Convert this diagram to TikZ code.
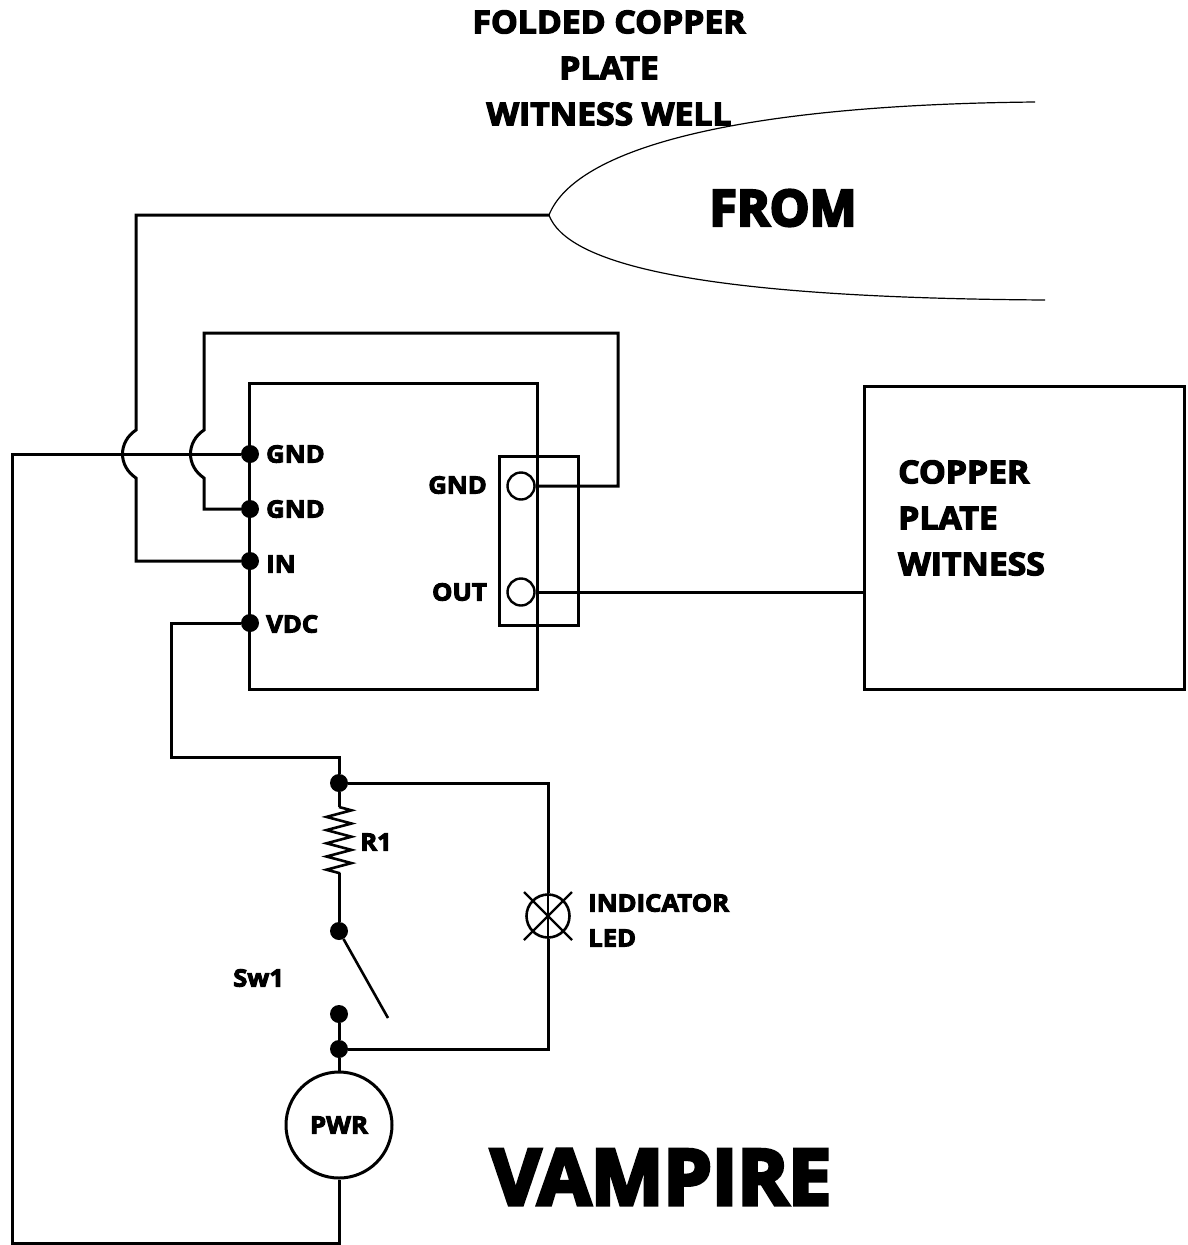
\documentclass[tikz,border=0pt]{standalone}
\usepackage{fontspec}
\setmainfont{Open Sans}
\newfontfamily\heavy[FakeBold=4,FakeStretch=1.07]{Open Sans Bold}
\newfontfamily\bigheavy[FakeBold=5]{Open Sans Bold}
\usetikzlibrary{decorations.pathmorphing}

\tikzstyle{block} = [rectangle, draw, line width=3pt, inner sep=0pt]
\tikzstyle{line} = [draw, line width=3pt, line join=miter]
\tikzstyle{thin line} = [draw, line width=1.2pt]
\tikzstyle{dot} = [circle, fill=black, inner sep=0pt, minimum size=18pt]
\tikzstyle{port} = [circle, draw, line width=2.4pt, inner sep=0pt, minimum size=27pt]
\tikzstyle{lab} = [font=\heavy\fontsize{24}{26}\selectfont, inner sep=0pt]
\tikzstyle{title} = [font=\heavy\fontsize{31.5}{34}\selectfont, inner sep=0pt]

\begin{document}
\begin{tikzpicture}[x=1pt, y=-1pt]
		\useasboundingbox (0,0) rectangle (1188,1245);
		%Title
		\node [title] (title1) at (609,22) {FOLDED COPPER};
		\node [title] (title2) at (609,68) {PLATE};
		\node [title] (title3) at (609,114) {WITNESS WELL};
		\node [font=\bigheavy\fontsize{50}{54}\selectfont, inner sep=0pt] (from) at (783,208) {FROM};
		\node [font=\bigheavy\fontsize{77}{80}\selectfont, inner sep=0pt] (vampire) at (661,1177) {VAMPIRE};
		
		%Main board
		\node [block, minimum width=288pt, minimum height=306pt] (board) at (393,536) {};
		\node [block, minimum width=79pt, minimum height=169pt] (header) at (538.5,540.5) {};
		\node [port] (port_gnd) at (521,486) {};
		\node [port] (port_out) at (521,592) {};
		\node [lab, anchor=east] (lab_pgnd) at (487,485) {GND};
		\node [lab, anchor=east] (lab_pout) at (487,592) {OUT};
		
		\node [dot] (dot_gnd1) at (250,454) {};
		\node [dot] (dot_gnd2) at (250,509) {};
		\node [dot] (dot_in) at (250,561) {};
		\node [dot] (dot_vdc) at (250,623) {};
		\node [lab, anchor=west] (lab_gnd1) at (266,454) {GND};
		\node [lab, anchor=west] (lab_gnd2) at (266,509) {GND};
		\node [lab, anchor=west] (lab_in) at (266,564) {IN};
		\node [lab, anchor=west] (lab_vdc) at (266,624) {VDC};
		
		%Witness
		\node [block, minimum width=320pt, minimum height=303pt] (witness) at (1024,537.5) {};
		\node [title, anchor=west] (wit1) at (898,472) {COPPER};
		\node [title, anchor=west] (wit2) at (898,518) {PLATE};
		\node [title, anchor=west] (wit3) at (898,564) {WITNESS};
		
		%Well
		\coordinate (well) at (549,215);
		\draw [thin line] (well) .. controls (575,150) and (730,105) .. (1035,102);
		\draw [thin line] (well) .. controls (570,272) and (740,298) .. (1045,300);
		
		%Lower circuit
		\node [dot] (dot_top) at (339,783) {};
		\node [dot] (dot_sw1) at (339,931) {};
		\node [dot] (dot_sw2) at (339,1014) {};
		\node [dot] (dot_pwr) at (339,1049) {};
		\node [circle, draw, line width=3pt, inner sep=0pt, minimum size=106pt, font=\heavy\fontsize{24}{26}\selectfont] (pwr) at (339,1125) {PWR};
		\node [circle, draw, line width=2.6pt, inner sep=0pt, minimum size=43pt] (led) at (548,916) {};
		\coordinate (r1_top) at (339,807);
		\coordinate (r1_bot) at (339,873);
		\coordinate (sw_end) at (388,1018);
		\node [lab, anchor=west] (lab_r1) at (360,842) {R1};
		\node [lab, anchor=west] (lab_sw) at (233,978) {Sw1};
		\node [lab, anchor=west] (lab_led1) at (588,903) {INDICATOR};
		\node [lab, anchor=west] (lab_led2) at (588,938) {LED};
		
		%wires
		\path [line] (dot_in) -| (136,478) .. controls (118,466) and (118,442) .. (136,430) |- (well);
		\path [line] (dot_gnd2) -| (204,478) .. controls (186,466) and (186,442) .. (204,430) |- (618,333) |- (port_gnd);
		\path [line] (dot_gnd1) -| (12,1243) -| (pwr);
		\path [line] (port_out) -- (witness.west |- port_out);
		\path [line] (dot_vdc) -| (171,757) -| (dot_top);
		\path [line] (dot_top) -- (r1_top);
		\draw [line width=2.6pt, decorate, decoration={zigzag, segment length=13.2pt, amplitude=12.5pt}] (r1_top) -- (r1_bot);
		\path [line] (r1_bot) -- (dot_sw1);
		\path [line, line width=2.6pt] (dot_sw1) -- (sw_end);
		\path [line] (dot_sw2) -- (dot_pwr);
		\path [line] (dot_pwr) -- (pwr);
		\path [line] (dot_top) -| (led);
		\path [line] (dot_pwr) -| (led);
		
		%led cross
		\draw [line width=2.2pt] (led.center) ++(-24,-24) -- ++(48,48);
		\draw [line width=2.2pt] (led.center) ++(24,-24) -- ++(-48,48);
		\draw [line width=2.4pt] (led.north) -- (led.south);
		
\end{tikzpicture}
\end{document}
